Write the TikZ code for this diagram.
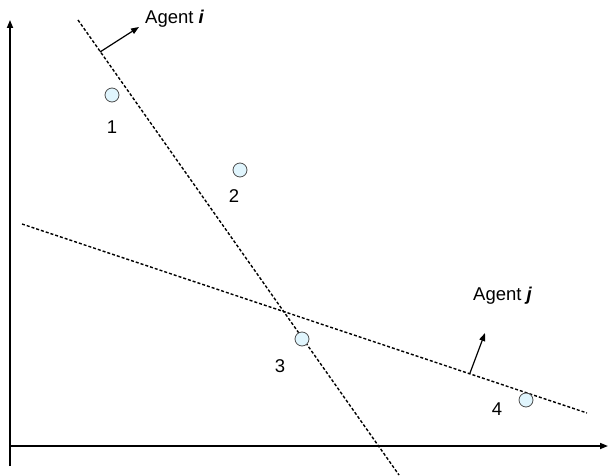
\documentclass[tikz,border=0pt]{standalone}
\usepackage{fontspec}
\setmainfont{Liberation Sans}
\usetikzlibrary{arrows.meta}
\tikzset{
  axis/.style={line width=1.6pt,-{Triangle[length=8pt,width=6pt]}},
  sepline/.style={line width=1.4pt,dash pattern=on 3pt off 2pt},
  normal/.style={line width=1.2pt,-{Triangle[length=8pt,width=6pt]}},
  pt/.style={circle,draw=black!70,fill=cyan!12,line width=0.8pt,minimum size=14pt,inner sep=0pt},
  lbl/.style={font=\fontsize{18.5}{21}\selectfont,inner sep=0pt}
}
\begin{document}
\begin{tikzpicture}[x=1pt,y=-1pt]
\useasboundingbox (0,0) rectangle (610,476);
% axes
\coordinate (O) at (10,446);
\coordinate (ytop) at (10,20);
\coordinate (xend) at (608,446);
\draw[axis] (10,466) -- (ytop);
\draw[axis] (O) -- (xend);
% separating lines
\coordinate (ia) at (78,20);
\coordinate (ib) at (399,475);
\coordinate (ja) at (22,224);
\coordinate (jb) at (587,413);
\draw[sepline] (ia) -- (ib);
\draw[sepline] (ja) -- (jb);
% normals
\coordinate (ni) at (100,52);
\coordinate (nit) at (139,27);
\draw[normal] (ni) -- (nit);
\coordinate (nj) at (470,373);
\coordinate (njt) at (485,333);
\draw[normal] (nj) -- (njt);
\node[lbl,anchor=west] (agi) at (145,19) {Agent \textbf{\textit{i}}};
\node[lbl,anchor=west] (agj) at (473,296) {Agent \textbf{\textit{j}}};
% points
\node[pt] (p1) at (112,95) {};
\node[pt] (p2) at (240,170) {};
\node[pt] (p3) at (302,339) {};
\node[pt] (p4) at (526,400) {};
\node[lbl] (l1) at (112,127) {1};
\node[lbl] (l2) at (234,196) {2};
\node[lbl] (l3) at (280,366) {3};
\node[lbl] (l4) at (497,409) {4};
\end{tikzpicture}
\end{document}
